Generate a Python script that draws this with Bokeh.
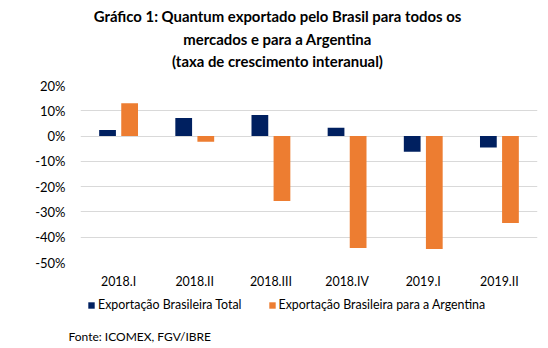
from bokeh.plotting import figure
from bokeh.layouts import column
from bokeh.models import (ColumnDataSource, FactorRange, FixedTicker, NumeralTickFormatter,
                          Legend, LegendItem, Range1d, Title)
from bokeh.core.properties import value
from bokeh.transform import dodge
from bokeh.embed import file_html
from bokeh.resources import INLINE

categories = ["2018.I", "2018.II", "2018.III", "2018.IV", "2019.I", "2019.II"]
total = [0.024, 0.071, 0.083, 0.033, -0.062, -0.045]
argentina = [0.130, -0.022, -0.257, -0.443, -0.447, -0.344]
series_names = ["Exportação Brasileira Total", "Exportação Brasileira para a Argentina"]
y_ticks = [-0.5, -0.4, -0.3, -0.2, -0.1, 0.0, 0.1, 0.2]
title_lines = ["Gráfico 1: Quantum exportado pelo Brasil para todos os",
               "mercados e para a Argentina",
               "(taxa de crescimento interanual)"]
source_text = "Fonte: ICOMEX, FGV/IBRE"

FONT = "Lato"
BLUE = "#002060"
ORANGE = "#ED7D31"

W = 548
LEFT, RIGHT = 80, 537          # frame edges shared by all stacked figures
HEAD_H = 75
FOOT_H = 56
MAIN_H = 348 - HEAD_H - FOOT_H


def blank(height, frame_h):
    f = figure(width=W, height=height, x_range=Range1d(LEFT, RIGHT),
               y_range=Range1d(0, frame_h), output_backend="svg", toolbar_location=None,
               min_border=0, min_border_left=LEFT, min_border_right=W - RIGHT,
               x_axis_location=None, y_axis_location=None)
    f.grid.visible = False
    f.outline_line_color = None
    return f


# ---- header with the three title lines ----
head = blank(HEAD_H, HEAD_H)
head_src = ColumnDataSource(dict(x=[277, 277, 277],
                                 y=[HEAD_H - 15.5, HEAD_H - 38.5, HEAD_H - 60.5],
                                 t=title_lines))
head.text(x="x", y="y", text="t", source=head_src, text_align="center",
          text_baseline="middle", text_font=value(FONT), text_font_style="bold",
          text_font_size="14.9px", text_color="#000000")

# ---- main chart ----
src = ColumnDataSource(dict(cat=categories, total=total, arg=argentina))

p = figure(width=W, height=MAIN_H, x_range=FactorRange(*categories),
           y_range=Range1d(-0.5, 0.2), output_backend="svg", toolbar_location=None,
           min_border_left=LEFT, min_border_right=W - RIGHT, min_border_top=85 - HEAD_H,
           min_border_bottom=(348 - FOOT_H) - 262)
p.outline_line_color = None

p.vbar(x=dodge("cat", -0.145, range=p.x_range), top="total", bottom=0, width=0.22,
       source=src, color=BLUE, line_color=None)
p.vbar(x=dodge("cat", 0.145, range=p.x_range), top="arg", bottom=0, width=0.22,
       source=src, color=ORANGE, line_color=None)

p.yaxis.ticker = FixedTicker(ticks=y_ticks)
p.yaxis.formatter = NumeralTickFormatter(format="0%")
for ax in (p.xaxis[0], p.yaxis[0]):
    ax.axis_line_color = None
    ax.major_tick_line_color = None
    ax.minor_tick_line_color = None
    ax.major_tick_out = 0
    ax.major_tick_in = 0
    ax.minor_tick_out = 0
    ax.minor_tick_in = 0
    ax.major_label_text_font = FONT
    ax.major_label_text_color = "#000000"
p.yaxis.major_label_text_font_size = "13px"
p.xaxis.major_label_text_font_size = "12.4px"
p.yaxis.major_label_standoff = 15
p.xaxis.major_label_standoff = 11
p.xgrid.grid_line_color = None
p.ygrid.grid_line_color = "#d9d9d9"
p.ygrid.grid_line_width = 1

# ---- footer: legend + source ----
FOOT_FRAME = 34
foot = blank(FOOT_H, FOOT_FRAME)
foot.min_border_bottom = FOOT_H - FOOT_FRAME
lr1 = foot.vbar(x=[LEFT], top=[0], bottom=[0], width=0, color=BLUE, line_color=None)
lr2 = foot.vbar(x=[LEFT], top=[0], bottom=[0], width=0, color=ORANGE, line_color=None)
legend = Legend(items=[LegendItem(label=series_names[0], renderers=[lr1]),
                       LegendItem(label=series_names[1], renderers=[lr2])],
                location=(87 - LEFT, FOOT_FRAME - 13 - 7), orientation="horizontal",
                glyph_width=8, glyph_height=8, label_standoff=3, spacing=26,
                label_text_font=FONT, label_text_font_size="12.4px", label_height=14,
                label_text_color="#000000",
                padding=0, margin=0, border_line_color=None, background_fill_alpha=0)
foot.add_layout(legend, "center")
foot.add_layout(Title(text=source_text, align="left", offset=68 - LEFT, standoff=0,
                      text_font=FONT, text_font_size="12px", text_font_style="normal",
                      text_color="#000000"), "below")

layout = column(head, p, foot, spacing=0)
open("out.html", "w").write(file_html(layout, INLINE))
